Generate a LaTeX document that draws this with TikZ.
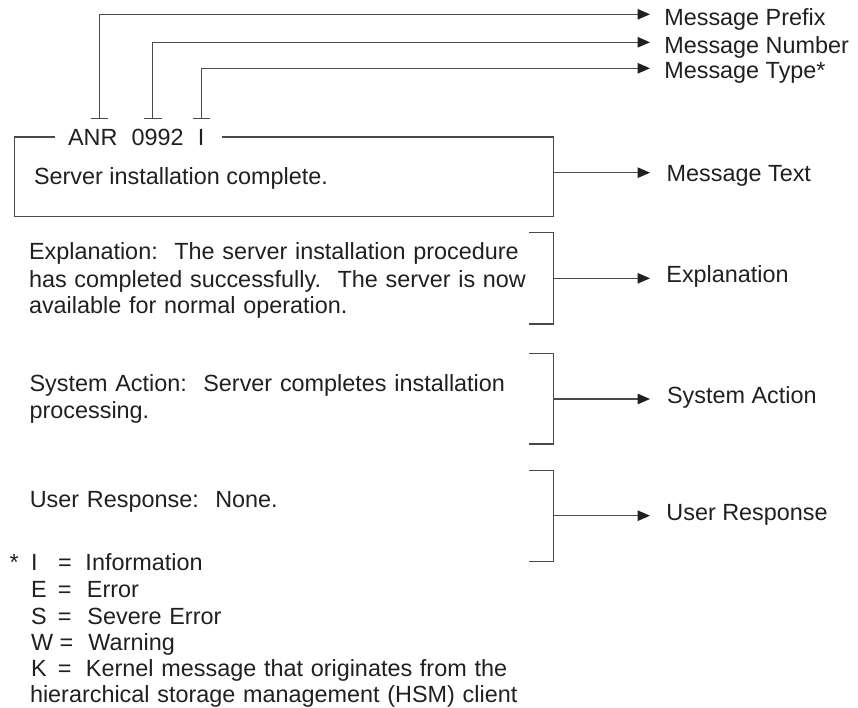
\documentclass[tikz,border=0pt]{standalone}
\usepackage{fontspec}
\setmainfont{Liberation Sans}
\newfontfamily\bodyfont[WordSpace=1.19]{Liberation Sans}
\usetikzlibrary{arrows.meta}
\definecolor{ink}{HTML}{231F20}
\definecolor{rulec}{HTML}{4A4A4A}
\newcommand\dsp{\hspace{16.5pt}}
\newcommand\legrow[4]{\makebox[#2][l]{#1}\makebox[#3][l]{=}#4}
\begin{document}
\begin{tikzpicture}[x=1pt,y=-1pt,
  txt/.style={anchor=base west,inner sep=0pt,outer sep=0pt,text=ink,font=\fontsize{23.4}{27}\selectfont},
  body/.style={txt,font=\bodyfont\fontsize{23.4}{27}\selectfont},
  ln/.style={draw=rulec,line width=1.2pt},
  arr/.style={ln,-{Triangle[length=12.5pt,width=10.5pt,color=ink]}}]
\path[use as bounding box] (0,0) rectangle (858,708);

% right-hand labels
\node[txt] (lPrefix) at (664.3,26) {Message Prefix};
\node[txt] (lNumber) at (664.3,53.3) {Message Number};
\node[txt] (lType)   at (664.3,79) {Message Type*};
\node[txt] (lText)   at (666.6,182) {Message Text};
\node[txt] (lExpl)   at (666.4,282.3) {Explanation};
\node[txt] (lSys)    at (667,403.3) {System Action};
\node[txt] (lUser)   at (666.4,520.7) {User Response};

% message identifier
\node[txt] (pre) at (68,145.7) {ANR};
\node[txt] (num) at (131.7,145.7) {0992};
\node[txt] (typ) at (197.8,145.7) {I};

% T-bars and leader arrows
\foreach \n/\x/\y in {P/99.5/14.3, N/152.8/42.3, Y/201.3/68.3} {
  \coordinate (bar\n) at (\x,118.3);
  \coordinate (tip\n) at (650,\y);
  \draw[ln] ([xshift=-8.8pt]bar\n) -- ([xshift=8.8pt]bar\n);
  \draw[arr] (bar\n) |- (tip\n);
}

% message box
\coordinate (bxL) at (55,137);
\coordinate (bxR) at (221.7,137);
\draw[ln] (bxL) -- (14.3,137) -- (14.3,216.7) -- (553.3,216.7) -- (553.3,137) -- (bxR);
\node[txt] (msg) at (34,185) {Server installation complete.};
\coordinate (boxE) at (553.3,172.7);
\coordinate (tipX) at (650,172.7);
\draw[arr] (boxE) -- (tipX);

% brackets
\foreach \n/\t/\b/\m in {E/232.7/324/278.3, S/353.7/444/399, U/470.7/561.3/515.7} {
  \draw[ln] (529.3,\t) -- (553.3,\t) -- (553.3,\b) -- (529.3,\b);
  \coordinate (br\n) at (553.3,\m);
  \coordinate (tip\n) at (650,\m);
  \draw[arr] (br\n) -- (tip\n);
}

% explanation text
\node[body] (ex1) at (29,260) {Explanation:\dsp The server installation procedure};
\node[body] (ex2) at (29,287.3) {has completed successfully.\dsp The server is now};
\node[body] (ex3) at (29,313.8) {available for normal operation.};

\node[body] (sa1) at (29.6,391.7) {System Action:\dsp Server completes installation};
\node[body] (sa2) at (29.6,418.3) {processing.};

\node[body] (ur) at (29.8,507.3) {User Response:\dsp None.};

% legend
\node[body] (star) at (9.5,570.7) {*};
\node[body] (kI) at (31,570.7) {\legrow{I}{27pt}{27.5pt}{Information}};
\node[body] (kE) at (31,597.3) {\legrow{E}{27pt}{29pt}{Error}};
\node[body] (kS) at (31,624) {\legrow{S}{27pt}{29.5pt}{Severe Error}};
\node[body] (kW) at (31,650.7) {\legrow{W}{28.5pt}{29pt}{Warning}};
\node[body] (kK) at (31,676.7) {\legrow{K}{27pt}{28pt}{Kernel message that originates from the}};
\node[body] (kH) at (30,702.7) {hierarchical storage management (HSM) client};
\end{tikzpicture}
\end{document}
